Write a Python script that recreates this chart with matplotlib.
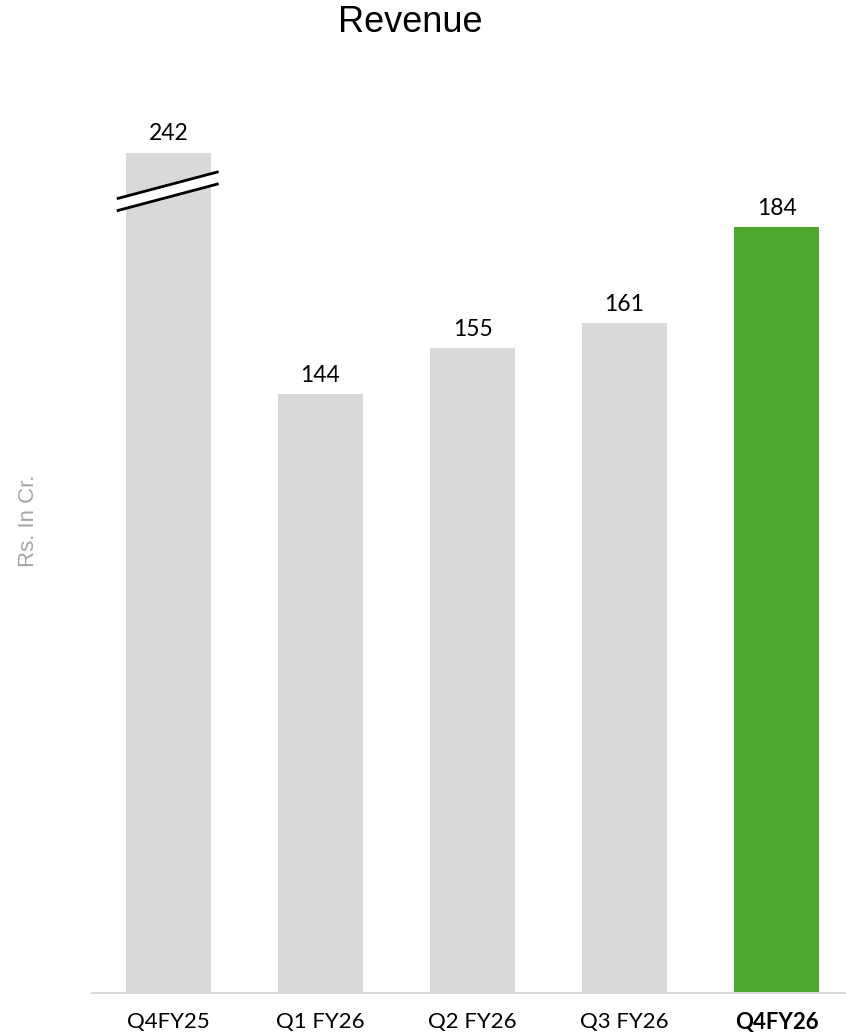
import matplotlib.pyplot as plt
from matplotlib.patches import Polygon

# ===============================
# DATA
# ===============================
quarters = ["Q4FY25", "Q1 FY26", "Q2 FY26", "Q3 FY26", "Q4FY26"]
revenue = [242, 144, 155, 161, 184]
bar_colors = ["#d9d9d9", "#d9d9d9", "#d9d9d9", "#d9d9d9", "#4ea72e"]
axis_cap = 202   # bar Q4FY25 dipotong (axis break)

# ===============================
# FIGURE
# ===============================
fig = plt.figure(figsize=(8.46, 10.34), dpi=100)
ax = fig.add_axes([92 / 846, 1 - 993 / 1034, 1 - 92 / 846, (993 - 61) / 1034])

shown = [min(v, axis_cap) for v in revenue]
x = list(range(len(quarters)))
ax.bar(x, shown, width=0.56, color=bar_colors, zorder=2)

ax.set_xlim(-0.503, 4.457)
ax.set_ylim(0, 224)

# label nilai di atas bar
for xi, s, v in zip(x, shown, revenue):
    ax.text(xi, s + 2.0, f"{v}", ha="center", va="bottom",
            fontsize=16.5, family="Lato", color="black")

# tanda putus (break) pada bar pertama
brk = Polygon([(-0.34, 190.9), (0.33, 197.4), (0.33, 194.5), (-0.34, 188.0)],
              closed=True, facecolor="white", edgecolor="none", zorder=3)
ax.add_patch(brk)
ax.plot([-0.34, 0.33], [190.9, 197.4], color="black", lw=2, zorder=4,
        solid_capstyle="butt")
ax.plot([-0.34, 0.33], [188.0, 194.5], color="black", lw=2, zorder=4,
        solid_capstyle="butt")

# axis styling
for side in ["top", "right", "left"]:
    ax.spines[side].set_visible(False)
ax.spines["bottom"].set_color("#d9d9d9")
ax.spines["bottom"].set_linewidth(1.5)
ax.set_yticks([])
ax.set_xticks(x)
ax.set_xticklabels(quarters, fontsize=16, family="Lato")
ax.tick_params(axis="x", length=0, pad=14)
ax.get_xticklabels()[-1].set_fontweight("bold")

fig.text(410 / 846, 1 - 23 / 1034, "Revenue", ha="center", va="center",
         fontsize=26, family="Liberation Sans")
fig.text(28 / 846, 1 - 521 / 1034, "Rs. In Cr.", ha="center", va="center",
         rotation=90, fontsize=16, family="Liberation Sans", color="#a6a6a6")

fig.savefig("out.png", dpi=100)
